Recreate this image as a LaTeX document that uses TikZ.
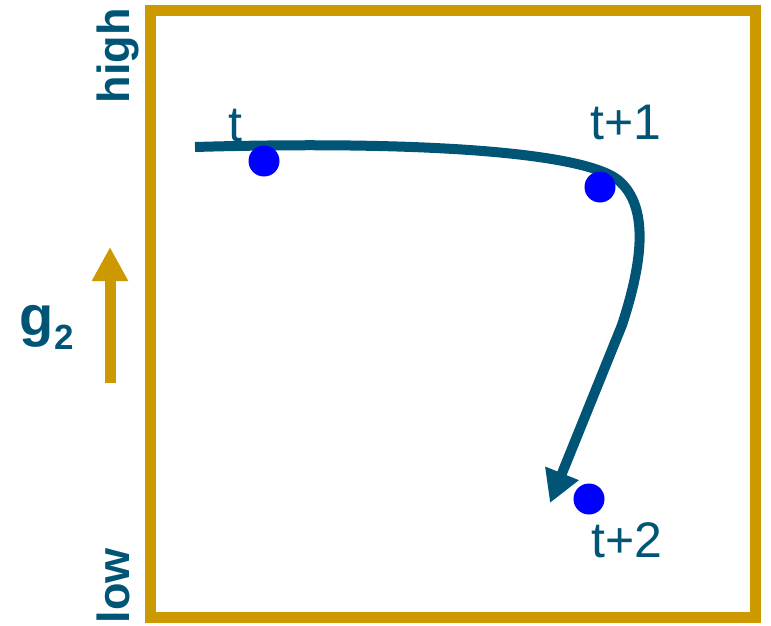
\documentclass[tikz,border=0pt]{standalone}
\usepackage{fontspec}
\setmainfont{Liberation Sans}
\usetikzlibrary{arrows.meta}
\definecolor{gold}{RGB}{204,153,0}
\definecolor{teal}{RGB}{0,84,117}
\tikzset{
  frame/.style={draw=gold, line width=11pt},
  dot/.style={circle, fill=blue, minimum size=31pt, inner sep=0pt},
  lbl/.style={text=teal, font=\fontsize{50}{60}\selectfont, anchor=base, inner sep=0pt},
  axlbl/.style={text=teal, font=\fontsize{45}{52}\selectfont\bfseries, anchor=base, rotate=90, inner sep=0pt},
  path/.style={draw=teal, line width=10pt, -{Triangle[length=32pt,width=34pt]}},
  gaxis/.style={draw=gold, line width=11pt, -{Triangle[length=34pt,width=34pt]}}
}
\begin{document}
\begin{tikzpicture}[x=1pt,y=-1pt]
\useasboundingbox (0,0) rectangle (771,626);
\draw[frame] (150.5,10.5) rectangle (755.5,617);
% axis labels
\node[axlbl] (high) at (129,56) {high};
\node[axlbl] (low) at (129,586) {low};
\coordinate (gbot) at (110,383);
\coordinate (gtop) at (110,247);
\draw[gaxis] (gbot) -- (gtop);
\node[text=teal, font=\fontsize{56}{62}\selectfont\bfseries, anchor=base, inner sep=0pt] (g) at (37,335) {g};
\node[text=teal, font=\fontsize{35}{40}\selectfont\bfseries, anchor=base, inner sep=0pt] (gsub) at (64.5,349) {2};
% trajectory
\coordinate (start) at (195,147);
\coordinate (tip) at (550,503);
\draw[path] (start) .. controls (400,141) and (580,150) .. (618,180)
  .. controls (652,208) and (640,270) .. (622,325) -- (tip);
% dots
\node[dot] (d0) at (264,161) {};
\node[dot] (d1) at (600,187) {};
\node[dot] (d2) at (589,499) {};
% labels
\node[lbl] (l0) at (235,141) {t};
\node[lbl] (l1) at (626,139) {t+1};
\node[lbl] (l2) at (627,557) {t+2};
\end{tikzpicture}
\end{document}
